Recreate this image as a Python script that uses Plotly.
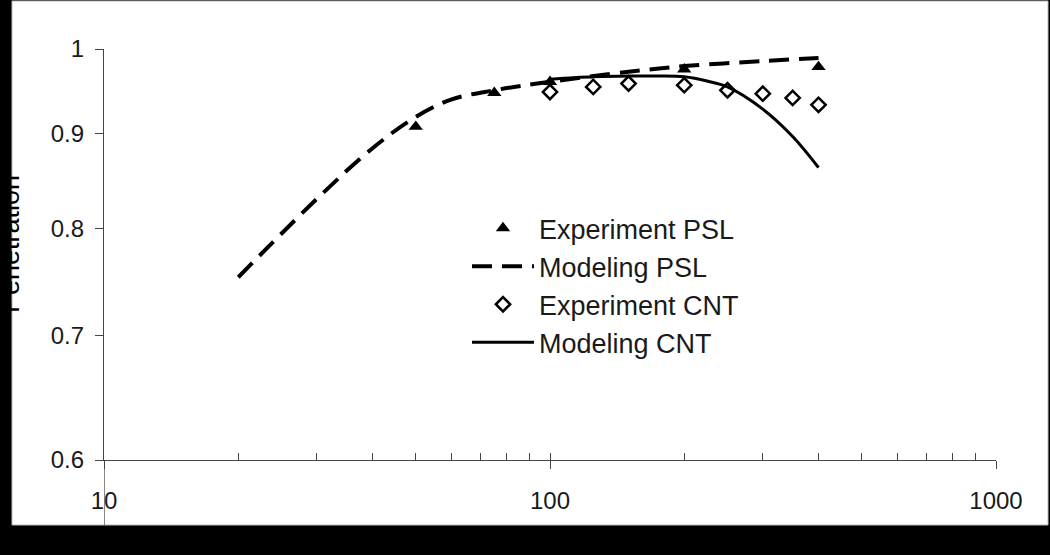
import plotly.graph_objects as go

# ---- data ----
exp_psl_x = [50, 75, 100, 200, 400]
exp_psl_y = [0.908, 0.947, 0.960, 0.975, 0.978]

model_psl_x = [20, 30, 40, 50, 60, 75, 100, 150, 200, 300, 400]
model_psl_y = [0.753, 0.830, 0.884, 0.919, 0.939, 0.950, 0.960, 0.972, 0.979, 0.985, 0.989]

exp_cnt_x = [100, 125, 150, 200, 250, 300, 350, 400]
exp_cnt_y = [0.948, 0.954, 0.958, 0.956, 0.950, 0.946, 0.941, 0.933]

model_cnt_x = [100, 125, 150, 175, 200, 225, 250, 300, 350, 400]
model_cnt_y = [0.963, 0.966, 0.967, 0.967, 0.966, 0.961, 0.954, 0.928, 0.897, 0.863]

x_tick_vals = [10, 100, 1000]
x_tick_text = ["10", "100", "1000"]
x_minor_vals = [10, 20, 30, 40, 50, 60, 70, 80, 90, 100,
                200, 300, 400, 500, 600, 700, 800, 900, 1000]
y_tick_vals = [0.6, 0.7, 0.8, 0.9, 1.0]
y_tick_text = ["0.6", "0.7", "0.8", "0.9", "1"]
y_title = "Penetration"

FONT = "Liberation Sans, Arial, sans-serif"
AX = "#444444"
TXT = "#1a1a1a"

fig = go.Figure()
fig.add_trace(go.Scatter(x=exp_psl_x, y=exp_psl_y, mode="markers", name="Experiment PSL",
                         marker=dict(symbol="triangle-up", size=12.5, color="black")))
fig.add_trace(go.Scatter(x=model_psl_x, y=model_psl_y, mode="lines", name="Modeling PSL",
                         line=dict(color="black", width=4, dash="20px,10px", shape="spline")))
fig.add_trace(go.Scatter(x=exp_cnt_x, y=exp_cnt_y, mode="markers", name="Experiment CNT",
                         marker=dict(symbol="diamond-open", size=11, color="black",
                                     line=dict(width=2.5, color="black"))))
fig.add_trace(go.Scatter(x=model_cnt_x, y=model_cnt_y, mode="lines", name="Modeling CNT",
                         line=dict(color="black", width=3, shape="spline")))
# empty helper trace so the overlay axis (inside ticks) is drawn
fig.add_trace(go.Scatter(x=[], y=[], xaxis="x2", showlegend=False, hoverinfo="skip"))

W, H = 1050, 555
ml, mr, mt, mb = 104, 54, 49, 95
pw, ph = W - ml - mr, H - mt - mb

def px_x(p):
    return (p - ml) / pw

def px_y(p):
    return (H - mb - p) / ph

fig.update_layout(
    width=W, height=H,
    margin=dict(l=ml, r=mr, t=mt, b=mb, pad=0, autoexpand=False),
    paper_bgcolor="black",
    plot_bgcolor="rgba(0,0,0,0)",
    font=dict(family=FONT, color=TXT),
    showlegend=True,
    legend=dict(x=px_x(467), y=px_y(204), xanchor="left", yanchor="top",
                bgcolor="rgba(0,0,0,0)", font=dict(size=27, color=TXT, family=FONT),
                itemwidth=62, tracegroupgap=0),
    xaxis=dict(type="log", range=[1, 3], tickvals=x_tick_vals, ticktext=x_tick_text,
               ticks="outside", ticklen=8, tickwidth=1.3, tickcolor=AX, automargin=False,
               showline=True, linecolor=AX, linewidth=1.3, showgrid=False, zeroline=False,
               tickfont=dict(size=24, color=TXT), ticklabelstandoff=11),
    xaxis2=dict(type="log", range=[1, 3], overlaying="x", anchor="y", side="bottom",
                tickvals=x_minor_vals, ticks="inside", ticklen=7, tickwidth=1.3, tickcolor=AX,
                automargin=False,
                showticklabels=False, showline=False, showgrid=False, zeroline=False),
    yaxis=dict(type="log", range=[-0.22185, 0], tickvals=y_tick_vals, ticktext=y_tick_text,
               ticks="outside", ticklen=8, tickwidth=1.3, tickcolor=AX, automargin=False,
               showline=True, linecolor=AX, linewidth=1.3, showgrid=False, zeroline=False,
               tickfont=dict(size=24, color=TXT), ticklabelstandoff=6),
    annotations=[
        dict(text=y_title, textangle=-90, xref="paper", yref="paper",
             x=px_x(27), y=px_y(244), xanchor="right", yanchor="middle",
             showarrow=False, font=dict(size=27, color="black", family=FONT)),
    ],
    shapes=[
        dict(type="rect", xref="paper", yref="paper", layer="below",
             x0=px_x(12), x1=px_x(1048), y0=px_y(525), y1=px_y(1),
             fillcolor="white", line=dict(color="#bbbbbb", width=1)),
        dict(type="line", xref="x", yref="paper", x0=10, x1=10, y0=0, y1=px_y(525),
             line=dict(color=AX, width=1.3)),
    ],
)

fig.write_html(
    "out.html",
    config={"displayModeBar": False},
    post_script="document.body.style.margin='0';document.body.style.background='black';",
)
